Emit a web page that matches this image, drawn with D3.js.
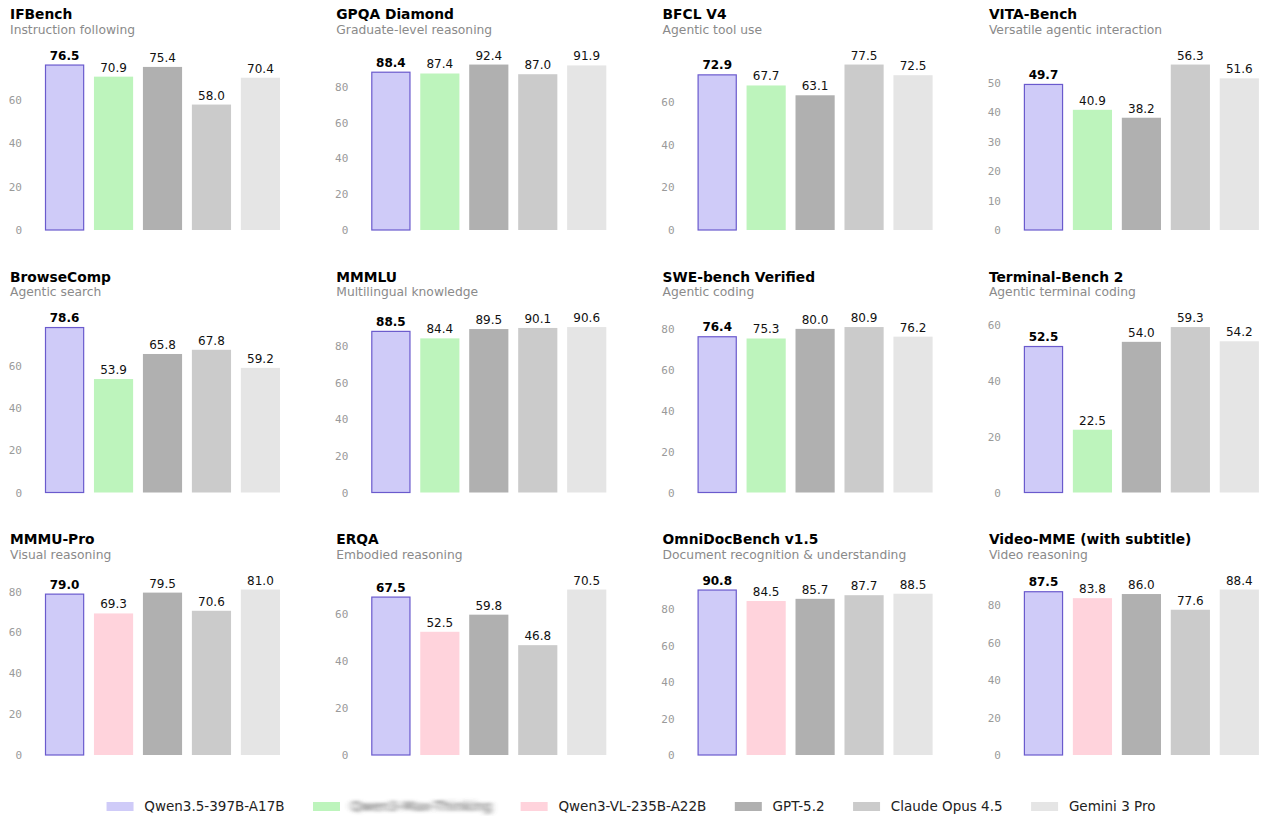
<!DOCTYPE html>
<html>
<head>
    <meta charset="utf-8">
    <style>
        body {
            margin: 0;
            background: white;
        }

        svg {
            display: block;
            font-family: 'DejaVu Sans', sans-serif;
        }

        .title {
            font-size: 13.8px;
            font-weight: bold;
            fill: #000;
        }

        .subtitle {
            font-size: 12.3px;
            fill: #8a8a8a;
        }

        .tick-label {
            font-family: 'DejaVu Sans Mono', monospace;
            font-size: 11px;
            fill: #9a9a9a;
        }

        .value {
            font-size: 12px;
            fill: #111;
        }

        .legend-text {
            font-size: 13.5px;
            fill: #222;
        }
    </style>
</head>

<body>
    <svg width="1280" height="828"></svg>
</body>

<script src="https://d3js.org/d3.v7.min.js"></script>

<script>
    // benchmarks, one panel each (4 columns x 3 rows)
    let benchmarks = ["IFBench", "GPQA Diamond", "BFCL V4", "VITA-Bench",
        "BrowseComp", "MMMLU", "SWE-bench Verified", "Terminal-Bench 2",
        "MMMU-Pro", "ERQA", "OmniDocBench v1.5", "Video-MME (with subtitle)"]

    let subtitles = ["Instruction following", "Graduate-level reasoning", "Agentic tool use", "Versatile agentic interaction",
        "Agentic search", "Multilingual knowledge", "Agentic coding", "Agentic terminal coding",
        "Visual reasoning", "Embodied reasoning", "Document recognition & understanding", "Video reasoning"]

    let models = ["Qwen3.5-397B-A17B", "Qwen3-Max-Thinking", "Qwen3-VL-235B-A22B", "GPT-5.2", "Claude Opus 4.5", "Gemini 3 Pro"]
    let modelColors = ["#cfcbf8", "#bdf4bc", "#ffd3dc", "#b0b0b0", "#cbcbcb", "#e5e5e5"]

    let qwen35 = [76.5, 88.4, 72.9, 49.7, 78.6, 88.5, 76.4, 52.5, 79.0, 67.5, 90.8, 87.5]
    // second bar: Qwen3-Max-Thinking for text panels, Qwen3-VL for vision panels
    let secondScores = [70.9, 87.4, 67.7, 40.9, 53.9, 84.4, 75.3, 22.5, 69.3, 52.5, 84.5, 83.8]
    let secondModel = [1, 1, 1, 1, 1, 1, 1, 1, 2, 2, 2, 2]
    let gpt52 = [75.4, 92.4, 63.1, 38.2, 65.8, 89.5, 80.0, 54.0, 79.5, 59.8, 85.7, 86.0]
    let claude45 = [58.0, 87.0, 77.5, 56.3, 67.8, 90.1, 80.9, 59.3, 70.6, 46.8, 87.7, 77.6]
    let gemini3 = [70.4, 91.9, 72.5, 51.6, 59.2, 90.6, 76.2, 54.2, 81.0, 70.5, 88.5, 88.4]

    let yTicks = [
        [0, 20, 40, 60], [0, 20, 40, 60, 80], [0, 20, 40, 60], [0, 10, 20, 30, 40, 50],
        [0, 20, 40, 60], [0, 20, 40, 60, 80], [0, 20, 40, 60, 80], [0, 20, 40, 60],
        [0, 20, 40, 60, 80], [0, 20, 40, 60], [0, 20, 40, 60, 80], [0, 20, 40, 60, 80]
    ]

    let svg = d3.select("svg")

    let colStep = 326.3
    let rowStep = 262.5
    let plotHeight = 182
    let fmt = d3.format(".1f")

    // blur for the redacted legend entry
    svg.append("defs").append("filter")
        .attr("id", "smudge")
        .attr("x", "-10%").attr("width", "120%")
        .append("feGaussianBlur")
        .attr("stdDeviation", "3 1.5")

    benchmarks.forEach((name, i) => {
        let col = i % 4
        let row = Math.floor(i / 4)
        let left = 10 + col * colStep
        let base = 230 + row * rowStep

        let bars = [
            { m: 0, v: qwen35[i] },
            { m: secondModel[i], v: secondScores[i] },
            { m: 3, v: gpt52[i] },
            { m: 4, v: claude45[i] },
            { m: 5, v: gemini3[i] }
        ]

        let x = d3.scaleBand()
            .domain(d3.range(bars.length))
            .range([left + 35, left + 270])
            .paddingInner(0.2)

        let y = d3.scaleLinear()
            .domain([0, d3.max(bars, d => d.v) * 1.1])
            .range([base, base - plotHeight])

        let g = svg.append("g")

        g.append("text")
            .attr("class", "title")
            .attr("x", left)
            .attr("y", base - 211)
            .text(name)

        g.append("text")
            .attr("class", "subtitle")
            .attr("x", left)
            .attr("y", base - 196.5)
            .text(subtitles[i])

        g.selectAll(".tick-label")
            .data(yTicks[i])
            .join("text")
            .attr("class", "tick-label")
            .attr("x", left + 12)
            .attr("y", d => y(d) + 4)
            .attr("text-anchor", "end")
            .text(d => d)

        g.selectAll(".bar")
            .data(bars)
            .join("rect")
            .attr("class", "bar")
            .attr("x", (d, j) => x(j) + (j == 0 ? 0.5 : 0))
            .attr("y", d => y(d.v) + (d.m == 0 ? 0.5 : 0))
            .attr("width", (d, j) => x.bandwidth() - (j == 0 ? 1 : 0))
            .attr("height", d => base - y(d.v) - (d.m == 0 ? 0.5 : 0))
            .style("fill", d => modelColors[d.m])
            .style("stroke", d => d.m == 0 ? "#6a5acd" : "none")
            .style("stroke-width", 1.2)

        g.selectAll(".value")
            .data(bars)
            .join("text")
            .attr("class", "value")
            .attr("x", (d, j) => x(j) + x.bandwidth() / 2)
            .attr("y", d => y(d.v) - 5)
            .attr("text-anchor", "middle")
            .style("font-weight", d => d.m == 0 ? "bold" : "normal")
            .style("fill", d => d.m == 0 ? "#000" : "#111")
            .text(d => fmt(d.v))
    })

    // legend, one row, centred
    let legend = svg.append("g")
    let swatchW = 27, swatchH = 9, textPad = 10.8, colSpace = 28.5
    let cursor = 0
    models.forEach((m, k) => {
        let item = legend.append("g")
        item.append("rect")
            .attr("x", 0)
            .attr("y", -9)
            .attr("width", swatchW)
            .attr("height", swatchH)
            .style("fill", modelColors[k])
        let t = item.append("text")
            .attr("class", "legend-text")
            .attr("x", swatchW + textPad)
            .attr("y", 0)
            .text(m)
        if (k == 1) t.attr("filter", "url(#smudge)").style("fill", "#555")
        let w = t.node().getComputedTextLength()
        item.attr("transform", "translate(" + cursor + ",0)")
        cursor += swatchW + textPad + w + colSpace
    })
    let total = cursor - colSpace
    legend.attr("transform", "translate(" + (631 - total / 2) + ",811)")
</script>
</html>
